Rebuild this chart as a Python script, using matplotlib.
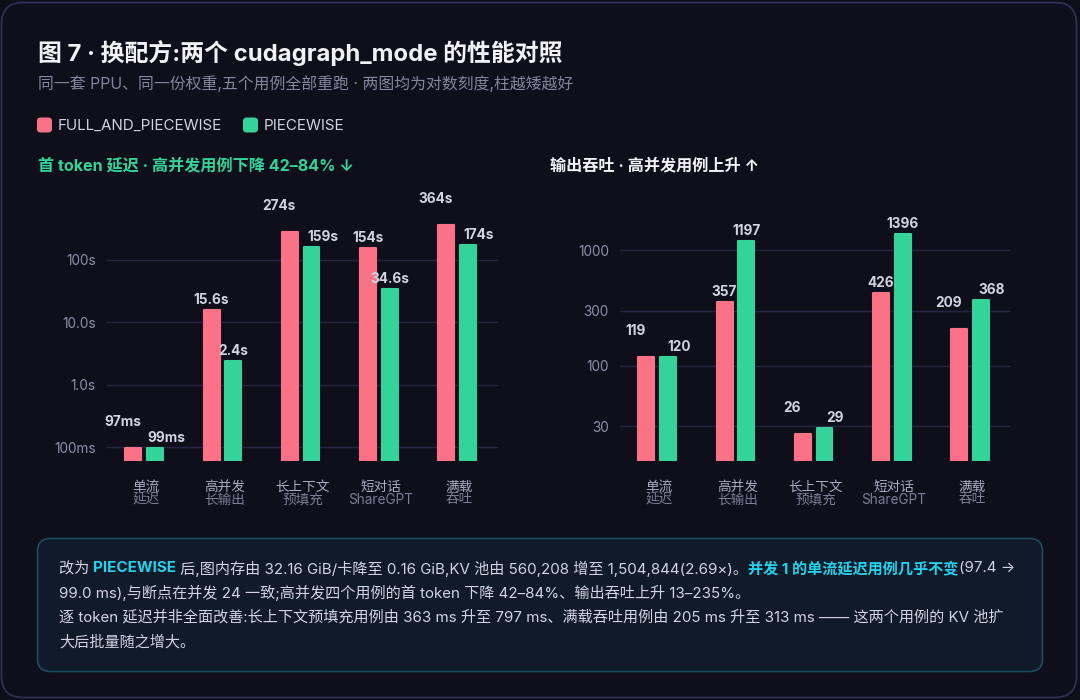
import matplotlib
matplotlib.use("Agg")
import matplotlib.pyplot as plt
from matplotlib.patches import FancyBboxPatch
from matplotlib.transforms import blended_transform_factory
import numpy as np

plt.rcParams['font.family'] = ['Inter', 'Noto Sans CJK SC', 'DejaVu Sans']

# ---------------- data ----------------
cat_line1 = ['单流', '高并发', '长上下文', '短对话', '满载']
cat_line2 = ['延迟', '长输出', '预填充', 'ShareGPT', '吞吐']
series_names = ['FULL_AND_PIECEWISE', 'PIECEWISE']
ttft_full = [0.097, 15.6, 274, 154, 364]      # seconds
ttft_piece = [0.099, 2.4, 159, 34.6, 174]     # seconds
tput_full = [119, 357, 26, 426, 209]
tput_piece = [120, 1197, 29, 1396, 368]
ttft_ticks = [0.1, 1, 10, 100]
ttft_ticklabels = ['100ms', '1.0s', '10.0s', '100s']
tput_ticks = [30, 100, 300, 1000]
tput_ticklabels = ['30', '100', '300', '1000']

title = '图 7 · 换配方:两个 cudagraph_mode 的性能对照'
subtitle = '同一套 PPU、同一份权重,五个用例全部重跑 · 两图均为对数刻度,柱越矮越好'
left_title = '首 token 延迟 · 高并发用例下降 42–84% ↓'
right_title = '输出吞吐 · 高并发用例上升 ↑'

# ---------------- style ----------------
W, H = 1080, 700
BG = '#0e0e19'
CARD_EDGE = '#322e56'
RED = '#fb7185'
GREEN = '#34d399'
CYAN = '#22d3ee'
GRID = '#25253f'
TICK = '#8e8ea8'
TXT = '#d2d2e2'
WHITE = '#f2f2f7'
SUB = '#85859e'


def fx(x):
    return x / W


def fy(y):
    return 1 - y / H


fig = plt.figure(figsize=(W / 100, H / 100), dpi=100, facecolor=BG)

# outer card
card = FancyBboxPatch((fx(1.5), fy(697.5)), fx(1075), (695 / H),
                      boxstyle='round,pad=0,rounding_size=0.02',
                      transform=fig.transFigure, facecolor='#0f0f1b',
                      edgecolor=CARD_EDGE, linewidth=1.3, zorder=-10,
                      mutation_aspect=W / H)
fig.patches.append(card)

fig.text(fx(38), fy(52.5), title, color=WHITE, fontsize=17.2, fontweight='bold',
         va='center', ha='left')
fig.text(fx(38), fy(84), subtitle, color=SUB, fontsize=11.4, va='center', ha='left')

# legend
leg_x = [37, 243]
for i, (name, col) in enumerate(zip(series_names, [RED, GREEN])):
    sq = FancyBboxPatch((fx(leg_x[i]), fy(132.5)), fx(15), 15 / H,
                        boxstyle='round,pad=0,rounding_size=0.0035',
                        transform=fig.transFigure, facecolor=col, edgecolor='none',
                        mutation_aspect=W / H, zorder=-5)
    fig.patches.append(sq)
    fig.text(fx(leg_x[i] + 21), fy(125.5), name, color=TXT, fontsize=10.9,
             va='center', ha='left')

fig.text(fx(38), fy(166), left_title, color=GREEN, fontsize=11.6, fontweight='bold',
         va='center', ha='left')
fig.text(fx(550), fy(166), right_title, color=WHITE, fontsize=11.6, fontweight='bold',
         va='center', ha='left')


def ttft_fmt(v):
    if v < 1:
        return f'{v * 1000:.0f}ms'
    if v < 100:
        return f'{v:.1f}s'
    return f'{v:.0f}s'


def tput_fmt(v):
    return f'{v:.0f}'


def draw_panel(left_px, ylo, yhi, full, piece, ticks, ticklabels, fmt):
    ax = fig.add_axes([fx(left_px), fy(461), fx(391), 271 / H])
    ax.set_facecolor('none')
    ax.set_yscale('log')
    ax.set_xlim(-0.5, len(cat_line1) - 0.5)
    ax.set_ylim(ylo, yhi)
    x = np.arange(len(cat_line1))
    w = 0.204
    off_r, off_g = -0.163, 0.115
    for vals, off, col in ((full, off_r, RED), (piece, off_g, GREEN)):
        ax.bar(x + off, np.array(vals) - ylo, bottom=ylo, width=w, color=col,
               edgecolor=col, linewidth=1.5, joinstyle='round', zorder=3)
    ax.set_yticks(ticks)
    ax.set_yticklabels(ticklabels)
    ax.yaxis.set_minor_locator(matplotlib.ticker.NullLocator())
    ax.tick_params(axis='y', length=0, pad=8, labelcolor=TICK, labelsize=9.8)
    ax.set_xticks([])
    for s in ax.spines.values():
        s.set_visible(False)
    ax.grid(axis='y', color=GRID, linewidth=1, zorder=0)
    # value labels
    for i in range(len(x)):
        pr = ax.transData.transform((0, full[i]))[1]
        pg = ax.transData.transform((0, piece[i]))[1]
        clash = abs(pr - pg) < 30
        dxr, dyr = (-11, 26) if clash else (0, 10)
        dxg = 11 if clash else 0
        ax.annotate(fmt(full[i]), (x[i] + off_r, full[i]), xytext=(dxr, dyr),
                    textcoords='offset pixels', ha='center', va='center',
                    color=TXT, fontsize=9.8, fontweight='bold', zorder=5)
        ax.annotate(fmt(piece[i]), (x[i] + off_g, piece[i]), xytext=(dxg, 10),
                    textcoords='offset pixels', ha='center', va='center',
                    color=TXT, fontsize=9.8, fontweight='bold', zorder=5)
    tr = blended_transform_factory(ax.transData, fig.transFigure)
    for i in range(len(x)):
        ax.text(x[i], fy(486.5), cat_line1[i], transform=tr, ha='center', va='center',
                color='#a9a9bf', fontsize=9.8)
        ax.text(x[i], fy(499.5), cat_line2[i], transform=tr, ha='center', va='center',
                color='#7c7c95', fontsize=9.8)
    return ax


draw_panel(107, 10 ** -1.2191, 10 ** 3.1148, ttft_full, ttft_piece,
           ttft_ticks, ttft_ticklabels, ttft_fmt)
draw_panel(620, 10 ** 1.1773, 10 ** 3.5216, tput_full, tput_piece,
           tput_ticks, tput_ticklabels, tput_fmt)

# note box
box = FancyBboxPatch((fx(37.5), fy(671.5)), fx(1005), 133 / H,
                     boxstyle='round,pad=0,rounding_size=0.012',
                     transform=fig.transFigure, facecolor='#111a28',
                     edgecolor='#1d4b5a', linewidth=1.2, mutation_aspect=W / H,
                     zorder=-5)
fig.patches.append(box)

renderer = fig.canvas.get_renderer()
NOTE_FS = 10.9


def text_width(s, weight):
    t1 = fig.text(0, 0, 'x' + s + 'x', fontsize=NOTE_FS, fontweight=weight)
    t2 = fig.text(0, 0, 'xx', fontsize=NOTE_FS, fontweight=weight)
    w = t1.get_window_extent(renderer).width - t2.get_window_extent(renderer).width
    t1.remove()
    t2.remove()
    return w


def rich_line(x, y, segments):
    for s, col, weight in segments:
        fig.text(fx(x), fy(y), s, color=col, fontsize=NOTE_FS, fontweight=weight,
                 va='center', ha='left')
        x += text_width(s, weight)


note_lines = [
    [('改为 ', TXT, 'normal'), ('PIECEWISE', CYAN, 'bold'),
     (' 后,图内存由 32.16 GiB/卡降至 0.16 GiB,KV 池由 560,208 增至 1,504,844(2.69×)。', TXT, 'normal'),
     ('并发 1 的单流延迟用例几乎不变', CYAN, 'bold'), ('(97.4 →', TXT, 'normal')],
    [('99.0 ms),与断点在并发 24 一致;高并发四个用例的首 token 下降 42–84%、输出吞吐上升 13–235%。', TXT, 'normal')],
    [('逐 token 延迟并非全面改善:长上下文预填充用例由 363 ms 升至 797 ms、满载吞吐用例由 205 ms 升至 313 ms —— 这两个用例的 KV 池扩', TXT, 'normal')],
    [('大后批量随之增大。', TXT, 'normal')],
]
note_y = [568.5, 592.5, 617.5, 642.5]
for segs, yy in zip(note_lines, note_y):
    rich_line(59, yy, segs)

fig.savefig('out.png', dpi=100, facecolor=BG)
